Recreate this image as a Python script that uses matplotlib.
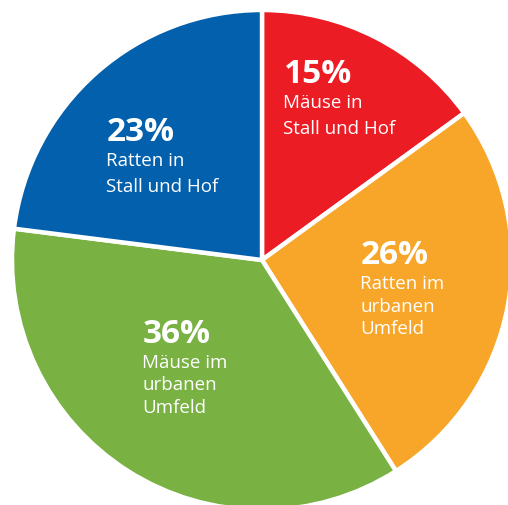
import matplotlib
matplotlib.use("Agg")
import matplotlib.pyplot as plt

# shares in percent, clockwise from 12 o'clock
shares = [15, 26, 36, 23]
labels = [["Mäuse in", "Stall und Hof"],
          ["Ratten im", "urbanen", "Umfeld"],
          ["Mäuse im", "urbanen", "Umfeld"],
          ["Ratten in", "Stall und Hof"]]
colors = ["#ec1c24", "#f8a62a", "#79b143", "#0360ac"]

# label anchors (left x, baseline of the percentage) and line step, in pixels from top-left
anchors = [(284, 83, 25.5), (361, 264, 22.5), (143, 343, 22.5), (107, 141, 25.5)]

W, H = 508, 506
fig = plt.figure(figsize=(W / 100, H / 100), dpi=100)
ax = fig.add_axes([0, 0, 1, 1])
ax.pie(shares, colors=colors, startangle=90, counterclock=False,
       center=(262, H - 261), radius=250,
       wedgeprops=dict(edgecolor="white", linewidth=3.2))
ax.set_xlim(0, W)
ax.set_ylim(0, H)
ax.set_aspect("equal")
ax.axis("off")

font = "Open Sans"
for v, lines, (x, y, step) in zip(shares, labels, anchors):
    ax.text(x, H - y, f"{v}%", color="white", fontsize=24, fontweight="bold",
            family=font, ha="left", va="baseline")
    for i, line in enumerate(lines):
        ax.text(x - 1, H - (y + 25 + i * step) + 0, line, color="white", fontsize=13.5,
                family=font, ha="left", va="baseline")

fig.savefig("out.png", dpi=100)
